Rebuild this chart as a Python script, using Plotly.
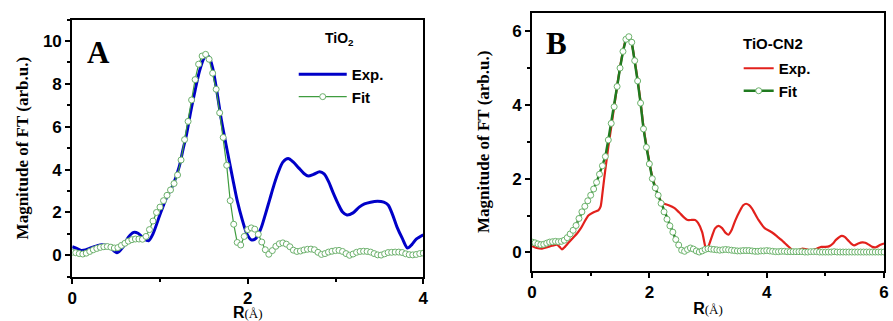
import plotly.graph_objects as go

# ---------------- Panel A : TiO2 ----------------
expA_R = [0.00, 0.05, 0.10, 0.15, 0.21, 0.28, 0.34, 0.42, 0.51, 0.58, 0.64, 0.70, 0.75, 0.81, 0.87,
          0.92, 1.00, 1.07, 1.15, 1.22, 1.26, 1.30, 1.35, 1.40, 1.45, 1.50, 1.53, 1.56, 1.60, 1.65,
          1.70, 1.77, 1.83, 1.88, 1.94, 1.99, 2.04, 2.09, 2.15, 2.20, 2.25, 2.30, 2.35, 2.40, 2.46,
          2.52, 2.58, 2.64, 2.69, 2.75, 2.82, 2.87, 2.92, 2.97, 3.03, 3.08, 3.13, 3.20, 3.27, 3.33,
          3.40, 3.48, 3.55, 3.60, 3.65, 3.70, 3.76, 3.82, 3.87, 3.92, 4.00]
expA_val = [0.40, 0.32, 0.23, 0.25, 0.34, 0.44, 0.49, 0.41, 0.12, 0.40, 0.85, 1.07, 1.03, 0.80, 0.68,
            1.00, 1.90, 2.65, 3.30, 4.15, 4.90, 5.60, 6.70, 7.70, 8.60, 9.20, 9.35, 9.25, 8.75, 7.60,
            6.30, 4.80, 3.55, 2.55, 1.62, 1.00, 0.72, 0.78, 1.25, 1.90, 2.60, 3.30, 3.90, 4.35, 4.52,
            4.35, 4.08, 3.82, 3.70, 3.78, 3.90, 3.80, 3.45, 2.95, 2.40, 2.02, 1.88, 1.98, 2.25, 2.40,
            2.48, 2.52, 2.48, 2.35, 1.90, 1.33, 0.80, 0.34, 0.50, 0.75, 0.95]

fitA_R = [round(0.04 * i, 2) for i in range(101)]
fitA_val = [0.14, 0.12, 0.08, 0.06, 0.10, 0.18, 0.26, 0.32, 0.37, 0.40,
            0.41, 0.38, 0.34, 0.36, 0.46, 0.56, 0.66, 0.73, 0.76, 0.76,
            0.75, 0.88, 1.20, 1.60, 2.00, 2.25, 2.55, 2.80, 3.05, 3.35,
            3.75, 4.45, 5.40, 6.25, 7.25, 8.20, 8.92, 9.30, 9.38, 9.15,
            8.50, 7.75, 6.65, 5.50, 4.20, 2.55, 1.45, 0.60, 0.48, 0.88,
            1.20, 1.28, 1.22, 0.98, 0.62, 0.26, 0.05, 0.22, 0.42, 0.54,
            0.58, 0.52, 0.40, 0.24, 0.18, 0.20, 0.25, 0.28, 0.29, 0.26,
            0.14, 0.04, 0.08, 0.15, 0.19, 0.22, 0.23, 0.18, 0.08, 0.00,
            0.06, 0.14, 0.18, 0.19, 0.18, 0.15, 0.08, 0.02, 0.01, 0.07,
            0.13, 0.14, 0.15, 0.15, 0.13, 0.07, 0.03, 0.02, 0.04, 0.08,
            0.10]

# ---------------- Panel B : TiO-CN2 ----------------
expB_R = [0.00, 0.08, 0.17, 0.26, 0.34, 0.43, 0.47, 0.51, 0.56, 0.62, 0.70, 0.77, 0.83, 0.88, 0.96,
          1.05, 1.13, 1.17, 1.20, 1.23, 1.27, 1.30, 1.35, 1.40, 1.45, 1.50, 1.55, 1.60, 1.64, 1.68,
          1.72, 1.77, 1.82, 1.86, 1.90, 1.95, 2.00, 2.05, 2.10, 2.15, 2.20, 2.25, 2.33, 2.43, 2.51,
          2.59, 2.65, 2.72, 2.78, 2.83, 2.90, 2.94, 2.97, 3.02, 3.07, 3.12, 3.18, 3.24, 3.30, 3.35,
          3.40, 3.46, 3.55, 3.60, 3.65, 3.70, 3.75, 3.86, 3.97, 4.05, 4.11, 4.18, 4.25, 4.31, 4.37,
          4.45, 4.53, 4.60, 4.66, 4.76, 4.85, 4.93, 5.00, 5.07, 5.13, 5.18, 5.28, 5.33, 5.38, 5.44,
          5.49, 5.56, 5.63, 5.68, 5.74, 5.80, 5.86, 5.94, 6.00]
expB_val = [0.17, 0.12, 0.10, 0.14, 0.18, 0.21, 0.15, 0.08, 0.15, 0.26, 0.40, 0.52, 0.65, 0.79, 1.00,
            1.09, 1.14, 1.25, 1.60, 2.00, 2.50, 2.86, 3.40, 3.95, 4.50, 5.02, 5.45, 5.78, 5.85, 5.78,
            5.50, 5.00, 4.45, 3.95, 3.40, 2.90, 2.45, 2.05, 1.78, 1.55, 1.38, 1.32, 1.28, 1.20, 1.08,
            0.95, 0.88, 0.88, 0.88, 0.80, 0.55, 0.25, 0.05, 0.22, 0.45, 0.65, 0.72, 0.66, 0.53, 0.48,
            0.60, 0.85, 1.15, 1.28, 1.32, 1.28, 1.19, 0.88, 0.65, 0.58, 0.52, 0.43, 0.34, 0.25, 0.16,
            0.05, 0.06, 0.10, 0.09, 0.05, 0.10, 0.15, 0.15, 0.17, 0.24, 0.34, 0.45, 0.42, 0.34, 0.24,
            0.19, 0.24, 0.27, 0.26, 0.21, 0.15, 0.14, 0.21, 0.24]

fitB_R = [round(0.05 * i, 2) for i in range(121)]
fitB_val = [0.28, 0.26, 0.23, 0.21, 0.22, 0.25, 0.28, 0.29, 0.30, 0.29,
            0.30, 0.33, 0.40, 0.50, 0.60, 0.73, 0.92, 1.10, 1.25, 1.40,
            1.55, 1.72, 1.90, 2.12, 2.35, 2.60, 3.05, 3.50, 3.95, 4.50,
            5.00, 5.45, 5.78, 5.85, 5.70, 5.20, 4.65, 4.05, 3.35, 2.85,
            2.40, 2.00, 1.75, 1.55, 1.33, 1.10, 0.90, 0.72, 0.55, 0.35,
            0.20, 0.06, 0.03, 0.08, 0.12, 0.09, 0.04, 0.01, 0.04, 0.08,
            0.10, 0.09, 0.08, 0.07, 0.06, 0.07, 0.08, 0.07, 0.06, 0.05,
            0.04, 0.04, 0.05, 0.05, 0.05, 0.04, 0.03, 0.03, 0.04, 0.04,
            0.05, 0.04, 0.03, 0.02, 0.02, 0.03, 0.03, 0.02, 0.02, 0.02,
            0.02, 0.02, 0.02, 0.01, 0.01, 0.02, 0.02, 0.02, 0.01, 0.01,
            0.01, 0.01, 0.01, 0.02, 0.01, 0.01, 0.01, 0.01, 0.01, 0.01,
            0.01, 0.01, 0.01, 0.01, 0.01, 0.01, 0.01, 0.01, 0.01, 0.01,
            0.01]

SANS = "Liberation Sans, Arial, sans-serif"
SERIF = "Liberation Serif, Times New Roman, serif"

fig = go.Figure()

fig.add_trace(go.Scatter(x=expA_R, y=expA_val, mode="lines", name="Exp.",
                         line=dict(color="#0000c8", width=3, shape="spline", smoothing=0.8),
                         xaxis="x", yaxis="y", legend="legend"))
fig.add_trace(go.Scatter(x=fitA_R, y=fitA_val, mode="lines+markers", name="Fit",
                         line=dict(color="#3f9c3f", width=1.2),
                         marker=dict(symbol="circle", size=6, color="white",
                                     line=dict(color="#6cb06c", width=1)),
                         xaxis="x", yaxis="y", legend="legend"))

fig.add_trace(go.Scatter(x=expB_R, y=expB_val, mode="lines", name="Exp.",
                         line=dict(color="#e2211c", width=2.2, shape="spline", smoothing=0.6),
                         xaxis="x2", yaxis="y2", legend="legend2"))
fig.add_trace(go.Scatter(x=fitB_R, y=fitB_val, mode="lines+markers", name="Fit",
                         line=dict(color="#1f7a1f", width=2.5),
                         marker=dict(symbol="circle", size=6, color="white",
                                     line=dict(color="#6cb36c", width=1)),
                         xaxis="x2", yaxis="y2", legend="legend2"))

W, H = 893, 321

def px_x(p):
    return p / W

def px_y(p):
    return 1 - p / H

tickfont = dict(family=SANS, size=17, color="black", weight="bold")
common = dict(showline=True, linecolor="black", linewidth=2, mirror=True,
              ticks="outside", ticklen=5, tickwidth=1.8, tickcolor="black",
              showgrid=False, zeroline=False, tickfont=tickfont)

ytitle = dict(text="Magnitude of FT (arb.u.)",
              font=dict(family=SERIF, size=17, color="black", weight="bold"))
xtitle = dict(text="<b>R</b><span style='font-family:Liberation Serif;font-size:13px'>(Å)</span>",
              font=dict(family=SANS, size=16, color="black"), standoff=2)

minor = dict(dtick=1, ticklen=3, tickwidth=1.5, tickcolor="black", ticks="outside")

fig.update_layout(
    width=W, height=H, margin=dict(l=0, r=0, t=0, b=0),
    paper_bgcolor="white", plot_bgcolor="white",
    xaxis=dict(domain=[px_x(68), px_x(423)], range=[0, 4], dtick=2, tick0=0,
               minor=minor, title=xtitle, anchor="y", **common),
    yaxis=dict(domain=[px_y(282), px_y(20)], range=[-1, 11], dtick=2, tick0=0,
               minor=minor, title=dict(ytitle, standoff=10), anchor="x", **common),
    xaxis2=dict(domain=[px_x(533), px_x(889)], range=[0, 6], dtick=2, tick0=0,
                minor=minor, title=xtitle, anchor="y2", **common),
    yaxis2=dict(domain=[px_y(276), px_y(13)], range=[-0.5, 6.5], dtick=2, tick0=0,
                minor=minor, title=dict(ytitle, standoff=18), anchor="x2", **common),
    legend=dict(x=px_x(292), y=px_y(59), xanchor="left", yanchor="top",
                bgcolor="rgba(0,0,0,0)", itemwidth=48, tracegroupgap=0,
                font=dict(family=SANS, size=15, color="black", weight="bold")),
    legend2=dict(x=px_x(742), y=px_y(53), xanchor="left", yanchor="top",
                 bgcolor="rgba(0,0,0,0)", itemwidth=30, tracegroupgap=0,
                 font=dict(family=SANS, size=15, color="black", weight="bold")),
    annotations=[
        dict(text="<b>A</b>", x=px_x(95), y=px_y(53), xref="paper", yref="paper",
             xanchor="center", yanchor="middle",
             showarrow=False, font=dict(family=SERIF, size=31, color="black")),
        dict(text="<b>B</b>", x=px_x(558), y=px_y(44), xref="paper", yref="paper",
             xanchor="center", yanchor="middle",
             showarrow=False, font=dict(family=SERIF, size=31, color="black")),
        dict(text="<b>TiO<sub>2</sub></b>", x=px_x(338), y=px_y(40), xref="paper", yref="paper",
             xanchor="center", yanchor="middle",
             showarrow=False, font=dict(family=SANS, size=14, color="black")),
        dict(text="<b>TiO-CN2</b>", x=px_x(777), y=px_y(44), xref="paper", yref="paper",
             xanchor="center", yanchor="middle",
             showarrow=False, font=dict(family=SANS, size=15, color="black")),
    ],
)

fig.write_html("out.html")
